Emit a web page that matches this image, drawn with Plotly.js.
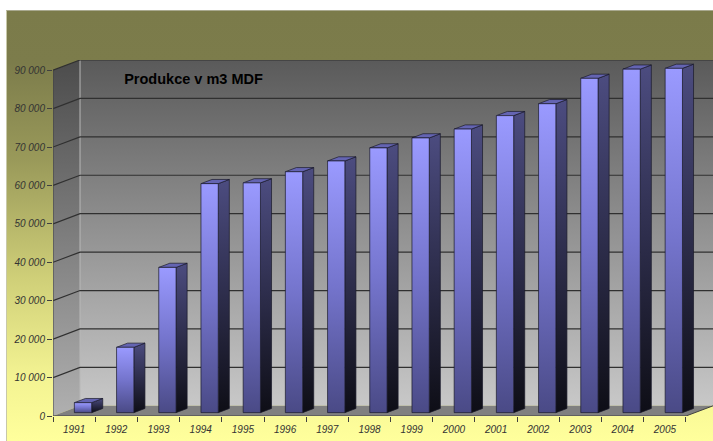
<!DOCTYPE html>
<html>
<head>
<meta charset="utf-8">
<script src="https://cdn.plot.ly/plotly-3.0.1.min.js"></script>
<style>
  html, body { margin: 0; padding: 0; background: #ffffff; }
  #wrap { position: relative; width: 713px; height: 441px; overflow: hidden; }
  #bg {
    position: absolute; left: 6px; top: 10px; width: 707px; height: 431px;
    box-sizing: border-box;
    border-top: 1px solid #a9a98f; border-left: 1px solid #c8c8a8;
    background: linear-gradient(to bottom, #7b7b4a 0%, #7c7c4b 12%, #9a9a5a 35%, #cfcf78 62%, #f3f392 85%, #ffff9c 100%);
  }
  #chart { position: absolute; left: 0; top: 0; width: 713px; height: 441px; }
</style>
</head>
<body>
<div id="wrap">
  <div id="bg"></div>
  <div id="chart"></div>
</div>
<script>
// ---- data ----
const years = ['1991','1992','1993','1994','1995','1996','1997','1998','1999','2000','2001','2002','2003','2004','2005'];
const production = [2600, 17000, 37800, 59600, 59800, 62700, 65500, 68900, 71500, 73800, 77300, 80400, 87000, 89400, 89600];
const yTickVals = [0, 10000, 20000, 30000, 40000, 50000, 60000, 70000, 80000, 90000];
const yTickText = ['0', '10 000', '20 000', '30 000', '40 000', '50 000', '60 000', '70 000', '80 000', '90 000'];
const chartTitle = 'Produkce v m3 MDF';

// ---- 3D look (styles / geometry) ----
const N = years.length;
const DX = 0.64;      // wall depth in category units
const DY = 2650;      // wall depth in value units
const FRONT = 0.33;   // bar front face depth fraction
const DEPTH = 0.41;   // bar depth fraction
const HW = 0.205;     // half width of bar front face
const yMax = yTickVals[yTickVals.length - 1];
const xL = -0.5, xR = N - 0.5;
const xBack = xR + DX;

const traces = [];
const base = {type: 'scatter', mode: 'lines', hoverinfo: 'skip', showlegend: false};

// left side wall
traces.push(Object.assign({}, base, {
  x: [xL, xL, xL + DX, xL + DX, xL],
  y: [0, yMax, yMax + DY, DY, 0],
  fill: 'toself',
  fillgradient: {type: 'vertical', start: 0, stop: yMax + DY, colorscale: [[0, '#b0b0b0'], [1, '#4c4c4c']]},
  line: {width: 0}
}));
// back wall
traces.push(Object.assign({}, base, {
  x: [xL + DX, xBack, xBack, xL + DX, xL + DX],
  y: [DY, DY, yMax + DY, yMax + DY, DY],
  fill: 'toself',
  fillgradient: {type: 'vertical', start: DY, stop: yMax + DY, colorscale: [[0, '#c8c8c8'], [0.5, '#929292'], [1, '#5a5a5a']]},
  line: {width: 0}
}));
// floor
traces.push(Object.assign({}, base, {
  x: [xL, xR, xR + DX, xL + DX, xL],
  y: [0, 0, DY, DY, 0],
  fill: 'toself', fillcolor: '#808080',
  line: {width: 0}
}));
// back-left corner line
traces.push(Object.assign({}, base, {
  x: [xL + DX, xL + DX], y: [DY, yMax + DY],
  line: {color: '#b8b8b8', width: 1}
}));
// gridlines on side and back walls
const gx = [], gy = [];
yTickVals.forEach(v => {
  if (v === 0) return;
  gx.push(xL, xL + DX, xBack, null);
  gy.push(v, v + DY, v + DY, null);
});
traces.push(Object.assign({}, base, {x: gx, y: gy, line: {color: '#303030', width: 1.2}}));

// bars
const edge = {color: '#1a1a2a', width: 0.7};
production.forEach((v, i) => {
  const x0 = i - HW + FRONT * DX, x1 = i + HW + FRONT * DX;
  const y0 = FRONT * DY, y1 = y0 + v;
  const ddx = DEPTH * DX, ddy = DEPTH * DY;
  // side
  traces.push(Object.assign({}, base, {
    x: [x1, x1 + ddx, x1 + ddx, x1, x1],
    y: [y0, y0 + ddy, y1 + ddy, y1, y0],
    fill: 'toself',
    fillgradient: {type: 'vertical', start: y0, stop: y1 + ddy, colorscale: [[0, '#0e0e16'], [1, '#4c4c80']]},
    line: edge
  }));
  // top
  traces.push(Object.assign({}, base, {
    x: [x0, x1, x1 + ddx, x0 + ddx, x0],
    y: [y1, y1, y1 + ddy, y1 + ddy, y1],
    fill: 'toself', fillcolor: '#6464b2',
    line: edge
  }));
  // front
  traces.push(Object.assign({}, base, {
    x: [x0, x1, x1, x0, x0],
    y: [y0, y0, y1, y1, y0],
    fill: 'toself',
    fillgradient: {type: 'vertical', start: y0, stop: y1, colorscale: [[0, '#4a4a86'], [0.5, '#7474cc'], [1, '#9a9aff']]},
    line: edge
  }));
});

// front axis edges
traces.push(Object.assign({}, base, {
  x: [xL, xL, null, xL, xR, xR + DX],
  y: [yMax, 0, null, 0, 0, DY],
  line: {color: '#404040', width: 1}
}));

const tickFont = {family: 'Liberation Sans, Arial, sans-serif', size: 10, color: '#333333', style: 'italic'};
const layout = {
  width: 713, height: 441,
  margin: {l: 53, r: 0, t: 60, b: 25, pad: 0},
  paper_bgcolor: 'rgba(0,0,0,0)',
  plot_bgcolor: 'rgba(0,0,0,0)',
  showlegend: false,
  title: {
    text: '<b>' + chartTitle + '</b>',
    font: {family: 'Liberation Sans, Arial, sans-serif', size: 14.5, color: '#000000'},
    xref: 'container', yref: 'container',
    x: 193.5 / 713, xanchor: 'center', y: 1 - 79 / 441, yanchor: 'middle'
  },
  xaxis: {
    range: [xL, xBack], showgrid: false, zeroline: false, showline: false,
    tickmode: 'array', tickvals: years.map((_, i) => i), ticktext: years,
    ticks: '', tickfont: tickFont, fixedrange: true, ticklabelstandoff: 6,
    minor: {tickmode: 'array', tickvals: years.map((_, i) => i - 0.5).concat([xR]), ticks: 'outside', ticklen: 5, tickcolor: '#404040', tickwidth: 1, showgrid: false}
  },
  yaxis: {
    range: [0, yMax + DY], showgrid: false, zeroline: false, showline: false,
    tickmode: 'array', tickvals: yTickVals, ticktext: yTickText,
    ticks: 'outside', ticklen: 5, tickcolor: '#404040', tickwidth: 1,
    tickfont: tickFont, fixedrange: true
  }
};

Plotly.newPlot('chart', traces, layout, {staticPlot: true, displayModeBar: false});
</script>
</body>
</html>
